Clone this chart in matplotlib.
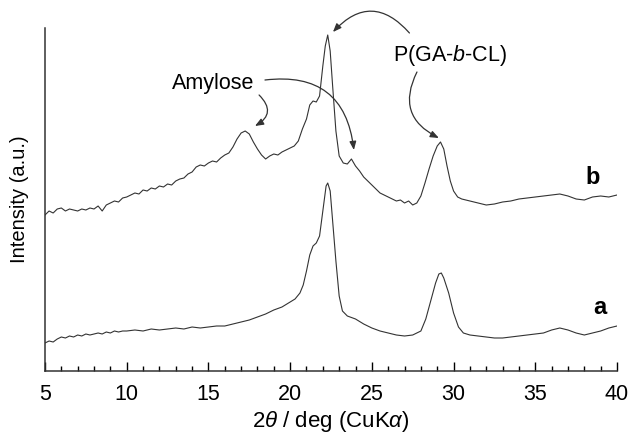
import numpy as np
import matplotlib
matplotlib.use("Agg")
import matplotlib.pyplot as plt

plt.rcParams['font.family'] = ['Liberation Sans', 'DejaVu Sans']
plt.rcParams['mathtext.fontset'] = 'custom'
plt.rcParams['mathtext.rm'] = 'Liberation Sans'
plt.rcParams['mathtext.it'] = 'Liberation Sans:italic'

# 2theta (deg) and intensity (a.u.) for trace a
two_theta_a = [5.0, 5.25, 5.5, 5.75, 6.0, 6.25, 6.5, 6.75, 7.0, 7.25, 7.5, 7.75, 8.0, 8.25,
               8.5, 8.75, 9.0, 9.25, 9.5, 9.75, 10.0, 10.5, 11.0, 11.5,
               12.0, 12.5, 13.0, 13.5, 14.0, 14.5, 15.0, 15.5, 16.0, 16.5, 17.0, 17.5,
               18.0, 18.5, 19.0, 19.5, 20.0, 20.3, 20.6, 20.8, 21.0, 21.2, 21.4, 21.6,
               21.8, 22.0, 22.2, 22.3, 22.45, 22.6, 22.8, 23.0, 23.2, 23.5, 24.0, 24.5,
               25.0, 25.5, 26.0, 26.5, 27.0, 27.5, 28.0, 28.3, 28.6, 28.9, 29.1, 29.25,
               29.4, 29.7, 30.0, 30.3, 30.6, 31.0, 31.5, 32.0, 32.5, 33.0, 33.5, 34.0,
               34.5, 35.0, 35.5, 36.0, 36.5, 37.0, 37.5, 38.0, 38.5, 39.0, 39.5, 40.0]
intensity_a = [28, 30, 29, 32, 34, 33, 35, 34, 36, 35, 37, 36, 37, 38,
               37, 39, 38, 40, 39, 40, 40, 41, 40, 42,
               41, 42, 43, 42, 44, 43, 44, 45, 45, 47, 49, 51,
               54, 57, 61, 64, 69, 72, 78, 86, 100, 116, 125, 128,
               135, 160, 185, 188, 180, 150, 110, 75, 60, 55, 52, 47,
               43, 40, 38, 36, 35, 36, 40, 52, 70, 88, 97, 98,
               93, 78, 58, 44, 38, 36, 35, 34, 33, 33, 34, 35,
               36, 37, 38, 41, 43, 41, 38, 36, 38, 40, 43, 45]

# trace b (offset upwards)
two_theta_b = [5.0, 5.25, 5.5, 5.75, 6.0, 6.25, 6.5, 6.75, 7.0, 7.25, 7.5, 7.75, 8.0, 8.25,
               8.5, 8.75, 9.0, 9.25, 9.5, 9.75, 10.0, 10.25, 10.5, 10.75, 11.0, 11.25,
               11.5, 11.75, 12.0, 12.25, 12.5, 12.75, 13.0, 13.25, 13.5, 13.75, 14.0,
               14.25, 14.5, 14.75, 15.0, 15.25, 15.5, 15.75, 16.0, 16.25, 16.5, 16.75,
               17.0, 17.25, 17.5, 17.75, 18.0, 18.25, 18.5, 18.75, 19.0, 19.25, 19.5,
               19.75, 20.0, 20.25, 20.5, 20.75, 21.0, 21.2, 21.4, 21.6, 21.8, 22.0,
               22.15, 22.3, 22.45, 22.6, 22.8, 23.0, 23.25, 23.5, 23.75, 24.0, 24.25,
               24.5, 24.75, 25.0, 25.25, 25.5, 25.75, 26.0, 26.25, 26.5, 26.75, 27.0,
               27.25, 27.5, 27.75, 28.0, 28.25, 28.5, 28.75, 29.0, 29.2, 29.4, 29.6,
               29.8, 30.0, 30.25, 30.5, 30.75, 31.0, 31.5, 32.0, 32.5, 33.0, 33.5,
               34.0, 34.5, 35.0, 35.5, 36.0, 36.5, 37.0, 37.5, 38.0, 38.5, 39.0, 39.5, 40.0]
intensity_b = [156, 160, 158, 162, 163, 160, 162, 161, 160, 162, 161, 163, 162, 165,
               160, 166, 168, 170, 169, 173, 174, 176, 178, 177, 181, 180,
               183, 182, 185, 184, 187, 186, 190, 192, 193, 197, 199,
               204, 206, 205, 208, 210, 209, 213, 216, 218, 224, 232,
               238, 240, 237, 229, 222, 216, 212, 215, 217, 216, 219,
               221, 223, 225, 230, 242, 252, 266, 270, 269, 275, 305,
               325, 336, 320, 285, 240, 215, 208, 207, 212, 205, 200,
               194, 190, 186, 182, 178, 176, 174, 172, 170, 171, 168,
               170, 166, 168, 175, 188, 202, 215, 225, 229, 222, 205,
               190, 180, 174, 172, 171, 170, 168, 166, 167, 169, 170,
               172, 173, 174, 175, 176, 177, 175, 172, 171, 174, 175, 174, 176]

fig = plt.figure(figsize=(6.32, 4.34), dpi=100)
ax = fig.add_axes([45 / 632, 63 / 434, 572 / 632, 343 / 434])

ax.plot(two_theta_a, intensity_a, color='#333333', lw=0.8)
ax.plot(two_theta_b, intensity_b, color='#333333', lw=0.8)

ax.set_xlim(5, 40)
ax.set_ylim(0, 343)
ax.set_xticks(np.arange(5, 41, 5))
ax.set_xticks(np.arange(5, 41, 1), minor=True)
ax.set_yticks([])
ax.tick_params(axis='x', which='major', direction='in', length=6.5, width=1, labelsize=15.5, pad=9)
ax.tick_params(axis='x', which='minor', direction='in', length=3.5, width=1)
for side in ['top', 'right']:
    ax.spines[side].set_visible(False)
for side in ['left', 'bottom']:
    ax.spines[side].set_linewidth(1.1)
    ax.spines[side].set_color('#333333')

ax.set_xlabel(r'2$\theta$ / deg (CuK$\alpha$)', fontsize=16, labelpad=3)
ax.set_ylabel('Intensity (a.u.)', fontsize=14.5)
ax.yaxis.set_label_coords(-16 / 572, 0.5)

# labels and arrows
ax.text(15.28, 287, 'Amylose', fontsize=15.5, ha='center', va='center')
ax.text(29.78, 316, r'P(GA-$b$-CL)', fontsize=15.5, ha='center', va='center')
ax.text(38.53, 194, 'b', fontsize=17, fontweight='bold', ha='center', va='center')
ax.text(38.96, 64, 'a', fontsize=17, fontweight='bold', ha='center', va='center')

arrow = dict(arrowstyle='-|>,head_length=0.5,head_width=0.2', color='#333333', lw=0.9,
             shrinkA=0, shrinkB=0, mutation_scale=10)
ax.annotate('', xy=(23.9, 221), xytext=(18.46, 291),
            arrowprops=dict(arrow, connectionstyle='arc3,rad=-0.5'))
ax.annotate('', xy=(17.85, 245), xytext=(18.1, 276),
            arrowprops=dict(arrow, connectionstyle='arc3,rad=-0.65'))
ax.annotate('', xy=(22.62, 339), xytext=(27.3, 338),
            arrowprops=dict(arrow, connectionstyle='arc3,rad=0.55'))
ax.annotate('', xy=(29.1, 233), xytext=(27.76, 299),
            arrowprops=dict(arrow, connectionstyle='arc3,rad=0.5'))

fig.savefig('out.png', dpi=100)
